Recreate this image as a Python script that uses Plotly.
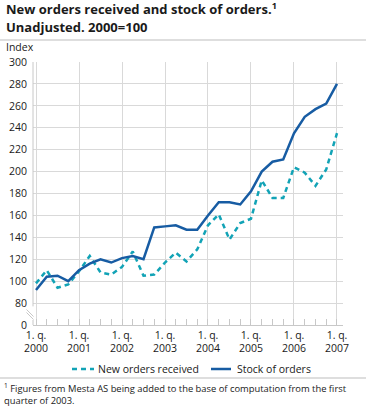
import plotly.graph_objects as go

# ---- data ----
quarters = list(range(29))  # 2000 Q1 .. 2007 Q1
new_orders = [98, 110, 94, 97, 109, 123, 108, 106, 113, 127, 105, 106, 117, 126, 118, 129,
              151, 161, 138, 153, 157, 192, 176, 176, 204, 199, 187, 202, 235]
stock_orders = [92, 104, 105, 100, 110, 116, 120, 117, 121, 123, 120, 149, 150, 151, 147, 147,
                160, 172, 172, 170, 182, 200, 209, 211, 235, 250, 257, 262, 280]
series_names = ["New orders received", "Stock of orders"]
year_ticks = [0, 4, 8, 12, 16, 20, 24, 28]
year_labels = ["1. q.<br>2000", "1. q.<br>2001", "1. q.<br>2002", "1. q.<br>2003",
               "1. q.<br>2004", "1. q.<br>2005", "1. q.<br>2006", "1. q.<br>2007"]
y_ticks = [60, 80, 100, 120, 140, 160, 180, 200, 220, 240, 260, 280, 300]
y_labels = ["0", "80", "100", "120", "140", "160", "180", "200", "220", "240", "260", "280", "300"]

FONT = "Open Sans"
GRID = "#d9d9d9"
TXT = "#1a1a1a"
COL_NEW = "#12a3b6"
COL_STOCK = "#175ca3"
DASH_NEW = "5px,4px"

fig = go.Figure()
fig.add_trace(go.Scatter(x=quarters, y=new_orders, mode="lines", name=series_names[0], showlegend=False,
                         line=dict(color=COL_NEW, width=2.5, dash=DASH_NEW)))
fig.add_trace(go.Scatter(x=quarters, y=stock_orders, mode="lines", name=series_names[1], showlegend=False,
                         line=dict(color=COL_STOCK, width=2.5)))

L, R, T, B = 33, 23, 62, 83
W, H = 366, 408
pw, ph = W - L - R, H - T - B

def px_x(px):
    return (px - L) / pw

def px_y(py):
    return (H - B - py) / ph

fig.update_layout(
    width=W, height=H,
    margin=dict(l=L, r=R, t=T, b=B, autoexpand=False),
    paper_bgcolor="white", plot_bgcolor="white",
    font=dict(family=FONT, size=11, color=TXT),
    xaxis=dict(range=[-0.28, 28.56], tickvals=year_ticks, ticktext=year_labels,
               showgrid=True, gridcolor=GRID, gridwidth=1, zeroline=False,
               showline=True, linecolor="#c8c8c8", linewidth=1,
               ticks="inside", ticklen=6, tickcolor="#c8c8c8",
               minor=dict(tick0=0, dtick=1, ticks="inside", ticklen=6, tickcolor="#c8c8c8", showgrid=False),
               tickfont=dict(family=FONT, size=10.5, color=TXT), fixedrange=True),
    yaxis=dict(range=[60, 300], tickvals=y_ticks, ticktext=y_labels,
               showgrid=True, gridcolor=GRID, gridwidth=1, zeroline=False,
               showline=False, ticks="", ticklabelstandoff=5,
               tickfont=dict(family=FONT, size=10.5, color=TXT), fixedrange=True),
)

# y-axis line with break
axis_col = "#c8c8c8"
fig.add_shape(type="line", xref="paper", yref="y", x0=0, x1=0, y0=300, y1=77, line=dict(color=axis_col, width=1))
fig.add_shape(type="line", xref="paper", yref="y", x0=0, x1=0, y0=64.6, y1=60, line=dict(color=axis_col, width=1))
for off in (0, 3):
    fig.add_shape(type="line", xref="paper", yref="paper",
                  x0=px_x(26.5), y0=px_y(309.5 + off), x1=px_x(33.5), y1=px_y(316.5 + off),
                  line=dict(color=axis_col, width=1))

# separator lines
fig.add_shape(type="line", xref="paper", yref="paper", x0=px_x(0), x1=px_x(366), y0=px_y(40), y1=px_y(40),
              line=dict(color="#bdbdbd", width=1))
fig.add_shape(type="line", xref="paper", yref="paper", x0=px_x(0), x1=px_x(366), y0=px_y(378), y1=px_y(378),
              line=dict(color="#bdbdbd", width=1))

# legend (drawn as key samples + labels)
LEG_Y = 369
fig.add_shape(type="line", xref="paper", yref="paper", x0=px_x(72), x1=px_x(94), y0=px_y(LEG_Y), y1=px_y(LEG_Y),
              line=dict(color=COL_NEW, width=2.5, dash=DASH_NEW))
fig.add_annotation(text=series_names[0], xref="paper", yref="paper", x=px_x(96), y=px_y(LEG_Y),
                   xanchor="left", yanchor="middle", showarrow=False, font=dict(family=FONT, size=10.5, color=TXT))
fig.add_shape(type="line", xref="paper", yref="paper", x0=px_x(211), x1=px_x(231), y0=px_y(LEG_Y), y1=px_y(LEG_Y),
              line=dict(color=COL_STOCK, width=2.5))
fig.add_annotation(text=series_names[1], xref="paper", yref="paper", x=px_x(235), y=px_y(LEG_Y),
                   xanchor="left", yanchor="middle", showarrow=False, font=dict(family=FONT, size=10.5, color=TXT))

# title (two lines)
fig.add_annotation(text="<b>New orders received and stock of orders.<sup>1</sup></b>", xref="paper", yref="paper",
                   x=px_x(4), y=px_y(8), xanchor="left", yanchor="middle", showarrow=False,
                   font=dict(family=FONT, size=13, color=TXT))
fig.add_annotation(text="<b>Unadjusted. 2000=100</b>", xref="paper", yref="paper",
                   x=px_x(4), y=px_y(27), xanchor="left", yanchor="middle", showarrow=False,
                   font=dict(family=FONT, size=13, color=TXT))

fig.add_annotation(text="Index", xref="paper", yref="paper", x=px_x(4), y=px_y(47), xanchor="left",
                   yanchor="middle", showarrow=False, font=dict(family=FONT, size=10.5, color=TXT))
fig.add_annotation(text="<sup>1</sup> Figures from Mesta AS being added to the base of computation from the first<br>quarter of 2003.",
                   xref="paper", yref="paper", x=px_x(2), y=px_y(379), xanchor="left", yanchor="top",
                   align="left", showarrow=False, font=dict(family=FONT, size=9.4, color=TXT))

fig.write_html("out.html", config={"displayModeBar": False},
               post_script="document.body.style.margin='0';")
